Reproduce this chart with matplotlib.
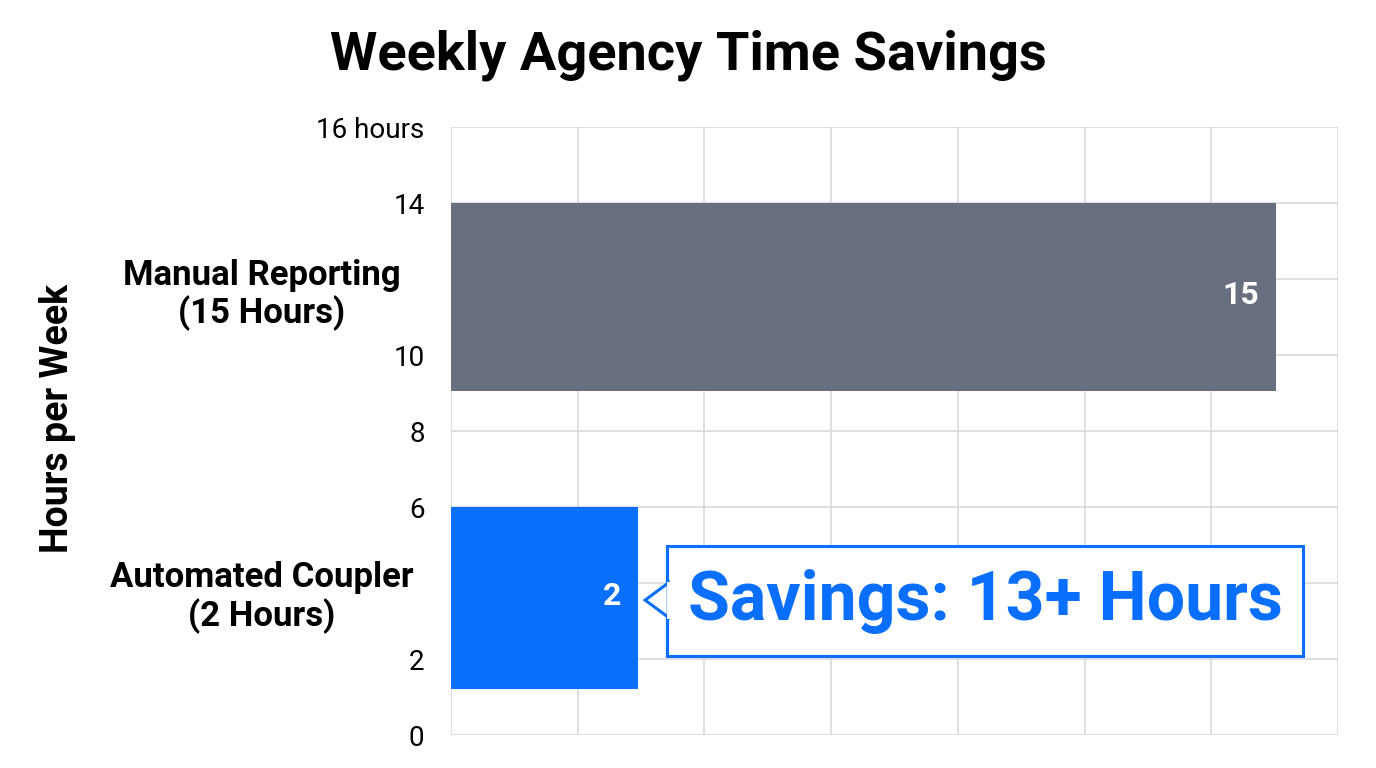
import matplotlib.pyplot as plt
from matplotlib.patches import Polygon, Rectangle

plt.rcParams["font.family"] = ["Roboto", "DejaVu Sans"]

categories = ["Manual Reporting\n(15 Hours)", "Automated Coupler\n(2 Hours)"]
bar_lengths = [15, 3.4]
bar_labels = ["15", "2"]
bar_centers = [11.52, 3.6]
bar_heights = [4.95, 4.8]
colors = ["#686f7e", "#0a6ffc"]
ytick_pos = [0, 2, 6, 8, 10, 14, 16]
ytick_labels = ["0", "2", "6", "8", "10", "14", "16 hours"]

fig = plt.figure(figsize=(13.76, 7.68), dpi=100)
ax = fig.add_axes([451 / 1376, 33 / 768, 887 / 1376, 608 / 768])
xmax = 16.13
ax.set_xlim(0, xmax)
ax.set_ylim(0, 16)
ax.set_xticks([xmax / 7 * i for i in range(8)])
ax.set_yticks(range(0, 17, 2))
ax.set_yticklabels([ytick_labels[ytick_pos.index(v)] if v in ytick_pos else "" for v in range(0, 17, 2)])
ax.tick_params(axis="x", labelbottom=False, length=0)
ax.tick_params(axis="y", length=0, labelsize=20, pad=19)
ax.grid(True, color="#d9d9d9", linewidth=1.2)
ax.set_axisbelow(True)
for s in ax.spines.values():
    s.set_visible(False)

label_y = [11.58, 3.63]
for c, w, h, col, lab, name, ly in zip(bar_centers, bar_lengths, bar_heights, colors, bar_labels, categories, label_y):
    ax.barh(c, w, height=h, color=col, zorder=2)
    ax.text(w - 0.3, c + 0.05, lab, color="white", fontsize=23, fontweight="bold",
            ha="right", va="center", zorder=3)
    ax.text(-3.44, ly, name, ha="center", va="center", fontsize=25,
            fontweight="bold", linespacing=1.15, clip_on=False)

# callout
ax.add_patch(Rectangle((3.93, 2.08), 15.49 - 3.93, 4.97 - 2.08, fc="white",
                       ec="#0a6ffc", lw=2.2, zorder=4))
ax.add_patch(Polygon([[3.53, 3.55], [3.95, 4.0], [3.95, 3.1]], closed=True,
                     fc="white", ec="#0a6ffc", lw=2.2, zorder=5))
ax.plot([3.97, 3.97], [3.13, 3.97], color="white", lw=3.5, zorder=6)
ax.text(9.71, 3.5, "Savings: 13+ Hours", color="#0a6ffc", fontsize=49, fontweight="bold",
        ha="center", va="center", zorder=7)

fig.text(58 / 1376, 1 - 418 / 768, "Hours per Week", rotation=90, ha="center", va="center",
         fontsize=27, fontweight="bold")
fig.text(688 / 1376, 1 - 55 / 768, "Weekly Agency Time Savings", ha="center", va="center",
         fontsize=39, fontweight="bold")

fig.savefig("out.png", dpi=100)
